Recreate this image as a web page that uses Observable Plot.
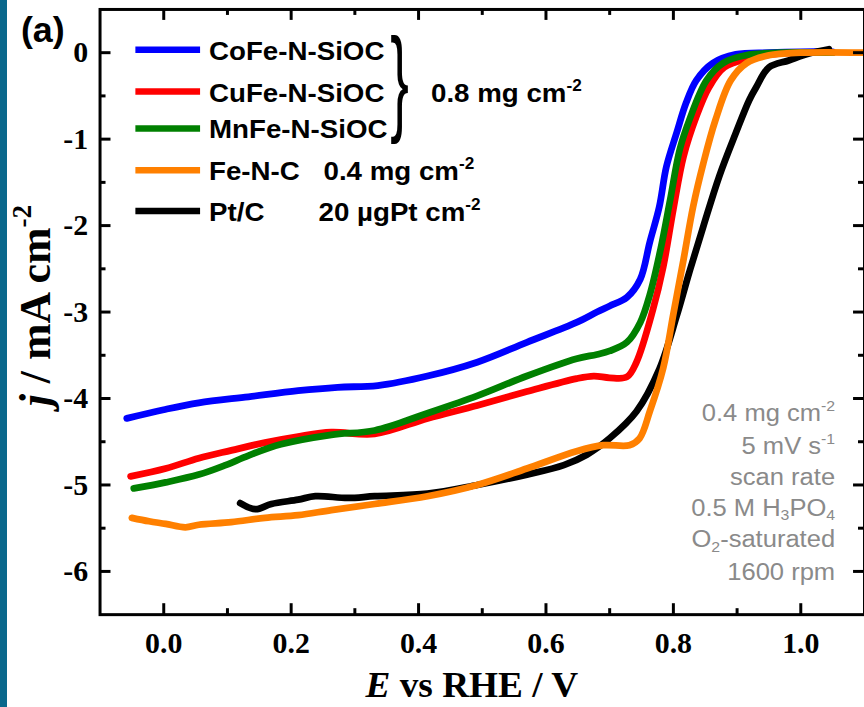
<!DOCTYPE html>
<html>
<head>
<meta charset="utf-8">
<script src="https://cdn.jsdelivr.net/npm/d3@7"></script>
<script src="https://cdn.jsdelivr.net/npm/@observablehq/plot@0.6"></script>
<style>
  html, body { margin: 0; padding: 0; background: #fff; overflow: hidden; width: 864px; height: 707px; }
  #wrap { position: relative; width: 864px; height: 707px; overflow: hidden; }
  #strip { position: absolute; left: 0; top: 0; width: 7px; height: 707px; background: #0a688c; z-index: 2; }
  svg { display: block; }
</style>
</head>
<body>
<div id="wrap"><div id="strip"></div></div>
<script>
// ---- Data (E vs RHE / V, j / mA cm^-2) ----
const seriesNames = ["CoFe-N-SiOC", "CuFe-N-SiOC", "MnFe-N-SiOC", "Fe-N-C", "Pt/C"];
const seriesColors = ["#0000ff", "#ff0000", "#008000", "#ff8000", "#000000"];

const coFeE = [-0.058, 0.0, 0.055, 0.133, 0.211, 0.273, 0.336, 0.414, 0.492, 0.57, 0.648, 0.68, 0.70, 0.727, 0.748, 0.763, 0.778, 0.789, 0.805, 0.82, 0.836, 0.862, 0.898, 0.95, 1.0, 1.05];
const coFeJ = [-4.23, -4.13, -4.05, -3.98, -3.91, -3.87, -3.85, -3.74, -3.58, -3.35, -3.12, -3.0, -2.93, -2.83, -2.62, -2.19, -1.78, -1.32, -0.93, -0.58, -0.32, -0.12, -0.02, 0.0, 0.01, 0.01];

const cuFeE = [-0.052, 0.003, 0.055, 0.106, 0.159, 0.211, 0.263, 0.331, 0.414, 0.492, 0.57, 0.648, 0.675, 0.70, 0.727, 0.742, 0.768, 0.784, 0.80, 0.816, 0.836, 0.856, 0.88, 0.917, 0.965, 1.05];
const cuFeJ = [-4.90, -4.81, -4.69, -4.60, -4.51, -4.44, -4.39, -4.41, -4.23, -4.08, -3.92, -3.77, -3.74, -3.76, -3.75, -3.58, -2.97, -2.48, -1.81, -1.20, -0.74, -0.40, -0.17, -0.07, -0.01, 0.0];

const mnFeE = [-0.047, 0.003, 0.055, 0.097, 0.133, 0.184, 0.263, 0.331, 0.414, 0.492, 0.57, 0.648, 0.68, 0.70, 0.727, 0.748, 0.763, 0.78, 0.795, 0.81, 0.825, 0.852, 0.878, 0.914, 0.97, 1.05];
const mnFeJ = [-5.04, -4.97, -4.88, -4.77, -4.66, -4.53, -4.42, -4.37, -4.17, -3.97, -3.74, -3.54, -3.49, -3.45, -3.35, -3.12, -2.80, -2.27, -1.70, -1.12, -0.78, -0.32, -0.12, -0.03, 0.0, 0.0];

const feNCE = [-0.05, -0.023, 0.003, 0.034, 0.055, 0.106, 0.159, 0.211, 0.263, 0.331, 0.414, 0.492, 0.57, 0.648, 0.69, 0.731, 0.747, 0.763, 0.784, 0.80, 0.816, 0.831, 0.847, 0.866, 0.89, 0.915, 0.95, 1.0, 1.1];
const feNCJ = [-5.38, -5.42, -5.45, -5.49, -5.46, -5.43, -5.38, -5.35, -5.29, -5.22, -5.13, -5.00, -4.81, -4.61, -4.54, -4.54, -4.46, -4.15, -3.65, -3.02, -2.39, -1.78, -1.28, -0.78, -0.32, -0.12, -0.03, 0.0, 0.0];

const ptCE = [0.12, 0.144, 0.169, 0.211, 0.238, 0.289, 0.331, 0.414, 0.492, 0.57, 0.628, 0.664, 0.70, 0.742, 0.778, 0.805, 0.825, 0.847, 0.872, 0.898, 0.919, 0.93, 0.95, 0.981, 1.013, 1.044];
const ptCJ = [-5.21, -5.28, -5.22, -5.17, -5.13, -5.15, -5.13, -5.10, -5.00, -4.88, -4.77, -4.65, -4.46, -4.15, -3.66, -3.05, -2.54, -2.01, -1.43, -0.93, -0.55, -0.40, -0.17, -0.09, -0.01, 0.04];

const xMajor = [0.0, 0.2, 0.4, 0.6, 0.8, 1.0];
const xMinor = [0.1, 0.3, 0.5, 0.7, 0.9];
const yMajor = [0, -1, -2, -3, -4, -5, -6];
const yMinor = [-0.5, -1.5, -2.5, -3.5, -4.5, -5.5];

// ---- Build table ----
const allE = [coFeE, cuFeE, mnFeE, feNCE, ptCE];
const allJ = [coFeJ, cuFeJ, mnFeJ, feNCJ, ptCJ];
const drawOrder = [0, 1, 2, 4, 3]; // blue, red, green, black, orange on top
const tables = drawOrder.map(k => allE[k].map((e, i) => ({E: e, j: allJ[k][i], s: seriesNames[k], c: seriesColors[k]})));

const W = 868, H = 707, mL = 100, mR = 0, mT = 9, mB = 90;
const pw = W - mL - mR, ph = H - mT - mB;
const majorLen = 11, minorLen = 6, tickW = 3;

const marks = [];
tables.forEach(t => marks.push(Plot.line(t, {x: "E", y: "j", stroke: "c", strokeWidth: 6.8, curve: "catmull-rom", strokeLinejoin: "round", strokeLinecap: "round"})));
// inward ticks
marks.push(Plot.tickX(xMajor, {x: d => d, insetTop: ph - majorLen, stroke: "black", strokeWidth: tickW}));
marks.push(Plot.tickX(xMajor, {x: d => d, insetBottom: ph - majorLen, stroke: "black", strokeWidth: tickW}));
marks.push(Plot.tickX(xMinor, {x: d => d, insetTop: ph - minorLen, stroke: "black", strokeWidth: tickW}));
marks.push(Plot.tickX(xMinor, {x: d => d, insetBottom: ph - minorLen, stroke: "black", strokeWidth: tickW}));
marks.push(Plot.tickY(yMajor, {y: d => d, insetRight: pw - majorLen, stroke: "black", strokeWidth: tickW}));
marks.push(Plot.tickY(yMajor, {y: d => d, insetLeft: pw - majorLen, stroke: "black", strokeWidth: tickW}));
marks.push(Plot.tickY(yMinor, {y: d => d, insetRight: pw - minorLen, stroke: "black", strokeWidth: tickW}));
marks.push(Plot.tickY(yMinor, {y: d => d, insetLeft: pw - minorLen, stroke: "black", strokeWidth: tickW}));
marks.push(Plot.frame({stroke: "black", strokeWidth: 3}));
marks.push(Plot.axisX(xMajor, {tickSize: 0, tickPadding: 17, tickFormat: d3.format(".1f"), fontSize: 30, fontWeight: "bold", fontFamily: "Liberation Serif", fill: "black", label: null}));
marks.push(Plot.axisY(yMajor, {tickSize: 0, tickPadding: 12, tickFormat: d => String(d), fontSize: 30, fontWeight: "bold", fontFamily: "Liberation Serif", fill: "black", label: null}));

const svgEl = Plot.plot({
  width: W, height: H,
  marginLeft: mL, marginRight: mR, marginTop: mT, marginBottom: mB,
  x: {domain: [-0.1, 1.1]},
  y: {domain: [-6.5, 0.5]},
  color: {type: "identity"},
  style: {background: "transparent", overflow: "hidden"},
  marks
});
document.getElementById("wrap").appendChild(svgEl);

const svg = d3.select(svgEl);
const sx = 1.07;

// helper: rich text with sup/sub
function richText(g, parts, fs, anchor) {
  const t = g.append("text").attr("text-anchor", anchor || "start");
  let shift = 0;
  parts.forEach(p => {
    const ts = t.append("tspan").text(p.t);
    let target = 0;
    if (p.sup) { ts.attr("font-size", fs * 0.62); target = -fs * 0.42; }
    else if (p.sub) { ts.attr("font-size", fs * 0.62); target = fs * 0.2; }
    if (p.it) ts.attr("font-style", "italic");
    if (target !== shift) { ts.attr("dy", target - shift); shift = target; }
  });
  return t;
}

// ---- Axis labels ----
const yl = svg.append("g").attr("transform", "translate(50,307) rotate(-90)")
  .attr("font-family", "Liberation Serif").attr("font-weight", "bold").attr("font-size", 44).attr("fill", "black");
richText(yl, [{t: "j", it: true}, {t: " / mA cm"}, {t: "-2", sup: true}], 44, "middle");

const xl = svg.append("g").attr("transform", `translate(474,700) scale(${sx},1)`)
  .attr("font-family", "Liberation Serif").attr("font-weight", "bold").attr("font-size", 35).attr("fill", "black");
richText(xl, [{t: "E", it: true}, {t: " vs RHE / V"}], 35, "middle");

// ---- Panel label ----
svg.append("text").attr("x", 21).attr("y", 42).attr("text-anchor", "start").attr("font-family", "Liberation Sans").attr("font-weight", "bold")
  .attr("font-size", 36).attr("fill", "black").text("(a)");

// ---- Legend ----
const legY = [50, 92, 129, 171, 212];
const lg = svg.append("g").attr("font-family", "Liberation Sans").attr("font-weight", "bold").attr("fill", "black");
seriesNames.forEach((n, k) => {
  lg.append("line").attr("x1", 136).attr("x2", 201).attr("y1", legY[k]).attr("y2", legY[k])
    .attr("stroke", seriesColors[k]).attr("stroke-width", 6.5);
  const g = lg.append("g").attr("transform", `translate(210,${legY[k] + 10}) scale(${sx},1)`).attr("font-size", 26);
  richText(g, [{t: n}], 26);
});
const loadTxt = [
  {x: 433, y: legY[1] + 10, parts: [{t: "0.8 mg cm"}, {t: "-2", sup: true}]},
  {x: 325, y: legY[3] + 10, parts: [{t: "0.4 mg cm"}, {t: "-2", sup: true}]},
  {x: 320, y: legY[4] + 10, parts: [{t: "20 \u00b5gPt cm"}, {t: "-2", sup: true}]}
];
loadTxt.forEach(d => {
  const g = lg.append("g").attr("transform", `translate(${d.x},${d.y}) scale(${sx},1)`).attr("font-size", 26);
  richText(g, d.parts, 26);
});
// brace
const bg = lg.append("g").attr("transform", "translate(392,90) scale(1.4,2.95)").attr("font-size", 40).attr("font-weight", "normal");
bg.append("text").attr("x", 0).attr("y", 10.5).attr("text-anchor", "start").text("}");

// ---- Conditions annotation ----
const annParts = [
  [{t: "0.4 mg cm"}, {t: "-2", sup: true}],
  [{t: "5 mV s"}, {t: "-1", sup: true}],
  [{t: "scan rate"}],
  [{t: "0.5 M H"}, {t: "3", sub: true}, {t: "PO"}, {t: "4", sub: true}],
  [{t: "O"}, {t: "2", sub: true}, {t: "-saturated"}],
  [{t: "1600 rpm"}]
];
const annY = [423, 456, 487, 518, 550, 583];
annParts.forEach((parts, i) => {
  const g = svg.append("g").attr("transform", `translate(839,${annY[i]}) scale(${sx},1)`)
    .attr("font-family", "Liberation Sans").attr("font-size", 24).attr("fill", "#8a8a8a");
  richText(g, parts, 24, "end");
});
</script>
</body>
</html>
